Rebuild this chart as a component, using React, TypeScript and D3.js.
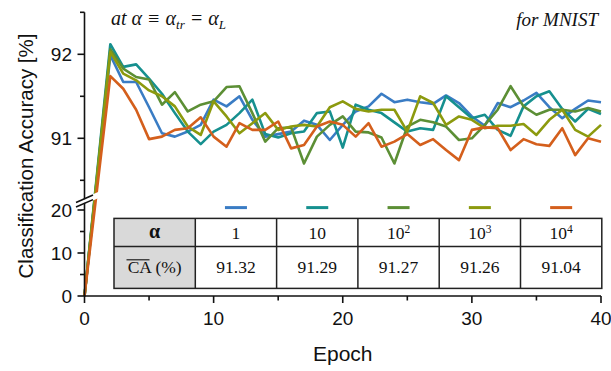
import React from "react"
import * as d3 from "d3"

const W = 611
const H = 371

// epochs with data (epoch 1 is not plotted, lines run straight from 0 to 2)
const epochs = [0, ...d3.range(2, 41)]

const alphaLabels = ["1", "10", "10|2", "10|3", "10|4"]
const meanCA = ["91.32", "91.29", "91.27", "91.26", "91.04"]
const colors = ["#3a7cc4", "#16908f", "#5c8f35", "#8c9a0e", "#d45f1c"]

// accuracy (%) for epochs 2..40, epoch 0 is 0
const acc1 = [91.99, 91.67, 91.67, 91.37, 91.06, 91.02, 91.08, 91.16, 91.46, 91.38, 91.5, 91.22, 91.02, 91.05, 91.08, 91.21, 91.16, 90.98, 91.16, 91.32, 91.38, 91.53, 91.43, 91.46, 91.43, 91.41, 91.51, 91.42, 91.26, 91.15, 91.42, 91.37, 91.45, 91.54, 91.37, 91.24, 91.35, 91.45, 91.43]
const acc10 = [92.12, 91.85, 91.88, 91.71, 91.53, 91.3, 91.08, 90.93, 91.08, 91.16, 91.3, 91.46, 91.05, 91.01, 91.06, 91.08, 91.3, 91.32, 90.89, 91.4, 91.34, 91.3, 91.19, 91.08, 91.12, 91.1, 91.5, 91.37, 91.24, 91.28, 91.1, 91.03, 91.38, 91.5, 91.56, 91.35, 91.2, 91.35, 91.29]
const acc100 = [92.06, 91.83, 91.73, 91.7, 91.4, 91.55, 91.32, 91.4, 91.44, 91.61, 91.62, 91.3, 90.96, 91.12, 91.13, 90.7, 91.02, 91.16, 91.26, 91.08, 91.07, 91.01, 90.7, 91.14, 91.22, 91.19, 91.14, 90.98, 91.0, 91.16, 91.34, 91.62, 91.38, 91.28, 91.34, 91.34, 91.32, 91.36, 91.32]
const acc1000 = [92.03, 91.77, 91.69, 91.57, 91.5, 91.38, 91.14, 91.04, 91.44, 91.26, 91.06, 91.18, 91.3, 91.1, 91.14, 91.16, 91.14, 91.37, 91.44, 91.35, 91.32, 91.34, 91.34, 91.08, 91.5, 91.42, 91.16, 91.26, 91.22, 91.12, 91.15, 91.15, 91.17, 91.04, 91.22, 91.34, 91.1, 91.02, 91.16]
const acc10000 = [91.74, 91.59, 91.34, 90.99, 91.02, 91.1, 91.12, 91.25, 91.02, 90.9, 91.18, 91.1, 91.1, 91.2, 90.88, 90.92, 91.14, 91.2, 91.16, 91.02, 91.18, 90.9, 90.96, 91.05, 90.92, 90.99, 90.86, 90.74, 91.1, 91.13, 91.12, 90.86, 90.99, 90.93, 90.91, 91.12, 90.8, 91.0, 90.96]

const series = [acc1, acc10, acc100, acc1000, acc10000]

const SANS = "'Liberation Sans', Arial, sans-serif"
const SERIF = "'Liberation Serif', 'Times New Roman', serif"

export default function App() {
  const x = d3.scaleLinear().domain([0, 40]).range([84.5, 601])
  const yHi = d3.scaleLinear().domain([91, 92]).range([138.3, 54.3])
  const yLo = d3.scaleLinear().domain([0, 20]).range([296, 210])
  const yPos = (v: number) => (v > 50 ? yHi(v) : yLo(v))

  const axisX = x(0)
  const line = d3
    .line<number>()
    .x((_, i) => x(epochs[i]))
    .y(d => yPos(d))

  // broken axis mark
  const bx0 = 74
  const bx1 = 101
  const by = (xx: number) => 202.5 - 0.44 * (xx - 76)
  const gap = 4.6

  const tableX = 114
  const colW = 81.3
  const rowY = [218.4, 246.6, 288.4]

  const xTicks = d3.range(0, 41, 5)
  const hiTicks = [90.5, 91, 91.5, 92, 92.5]
  const loTicks = [0, 5, 10, 15, 20]

  return (
    <svg
      width={W}
      height={H}
      style={{ position: "absolute", left: 0, top: 0, background: "#fff" }}
    >
      {/* data lines */}
      <g fill="none" strokeWidth={2.6} strokeLinejoin="round">
        {series.map((s, i) => (
          <path key={i} d={line([0, ...s]) || ""} stroke={colors[i]} />
        ))}
      </g>

      {/* axis break band */}
      <path
        d={`M${bx0},${by(bx0) - 0.8}L${bx1},${by(bx1) - 0.8}L${bx1},${by(bx1) + gap + 0.8}L${bx0},${by(bx0) + gap + 0.8}Z`}
        fill="#fff"
      />

      {/* y axis */}
      <g stroke="#111" strokeWidth={1.6}>
        <line x1={axisX} x2={axisX} y1={yHi(92.5)} y2={by(axisX) + 0.5} />
        <line x1={axisX} x2={axisX} y1={by(axisX) + gap - 0.5} y2={yLo(0)} />
        {hiTicks.map(t => (
          <line
            key={"h" + t}
            x1={axisX - (t % 1 === 0 ? 7 : 4.5)}
            x2={axisX}
            y1={yHi(t)}
            y2={yHi(t)}
          />
        ))}
        {loTicks.map(t => (
          <line
            key={"l" + t}
            x1={axisX - (t % 10 === 0 ? 7 : 4.5)}
            x2={axisX}
            y1={yLo(t)}
            y2={yLo(t)}
          />
        ))}
        <line x1={bx0 + 2} x2={bx0 + 19} y1={by(bx0 + 2)} y2={by(bx0 + 19)} />
        <line x1={bx0 + 2} x2={bx0 + 19} y1={by(bx0 + 2) + gap} y2={by(bx0 + 19) + gap} />
      </g>

      {/* x axis */}
      <g stroke="#111" strokeWidth={1.6}>
        <line x1={axisX} x2={x(40)} y1={yLo(0)} y2={yLo(0)} />
        {xTicks.map(t => (
          <line
            key={t}
            x1={x(t)}
            x2={x(t)}
            y1={yLo(0)}
            y2={yLo(0) + (t % 10 === 0 ? 7 : 4.5)}
          />
        ))}
      </g>

      {/* tick labels */}
      <g fontFamily={SANS} fontSize={19} fill="#111">
        {[91, 92].map(t => (
          <text key={t} x={72} y={yHi(t) + 6.8} textAnchor="end">
            {t}
          </text>
        ))}
        {[0, 10, 20].map(t => (
          <text key={t} x={72} y={yLo(t) + 6.8} textAnchor="end">
            {t}
          </text>
        ))}
        {[0, 10, 20, 30, 40].map(t => (
          <text key={t} x={x(t)} y={325} textAnchor="middle">
            {t}
          </text>
        ))}
      </g>

      <text
        x={x(20)}
        y={361}
        textAnchor="middle"
        fontFamily={SANS}
        fontSize={21}
        fill="#111"
      >
        Epoch
      </text>
      <text
        transform="translate(33,156) rotate(-90)"
        textAnchor="middle"
        fontFamily={SANS}
        fontSize={20.5}
        fill="#111"
      >
        Classification Accuracy [%]
      </text>

      {/* annotations */}
      <text x={111} y={25} fontFamily={SERIF} fontStyle="italic" fontSize={20} fill="#111">
        at α ≡ α
        <tspan fontSize={13} dy={4}>tr</tspan>
        <tspan dy={-4}> = α</tspan>
        <tspan fontSize={13} dy={4}>L</tspan>
      </text>
      <text
        x={598}
        y={26}
        textAnchor="end"
        fontFamily={SERIF}
        fontStyle="italic"
        fontSize={19}
        fill="#111"
      >
        for MNIST
      </text>

      {/* legend swatches */}
      <g strokeWidth={3}>
        {colors.map((c, i) => {
          const cx = tableX + colW * (i + 1.5)
          return <line key={c} x1={cx - 11} x2={cx + 11} y1={207.6} y2={207.6} stroke={c} />
        })}
      </g>

      {/* table */}
      <g>
        <rect x={tableX} y={rowY[0]} width={colW} height={rowY[2] - rowY[0]} fill="#d9d9d9" />
        <rect
          x={tableX + colW}
          y={rowY[0]}
          width={colW * 5}
          height={rowY[2] - rowY[0]}
          fill="#fff"
        />
        <g stroke="#222" strokeWidth={1.5} fill="none">
          <rect x={tableX} y={rowY[0]} width={colW * 6} height={rowY[2] - rowY[0]} />
          <line x1={tableX} x2={tableX + colW * 6} y1={rowY[1]} y2={rowY[1]} />
          {d3.range(1, 6).map(k => (
            <line
              key={k}
              x1={tableX + colW * k}
              x2={tableX + colW * k}
              y1={rowY[0]}
              y2={rowY[2]}
            />
          ))}
        </g>
        <g fontFamily={SERIF} fontSize={17.5} fill="#111" textAnchor="middle">
          <text x={tableX + colW / 2} y={238} fontWeight="bold" fontSize={20}>
            α
          </text>
          <text x={tableX + colW / 2} y={273}>
            CA (%)
          </text>
          <line
            x1={tableX + 12.5}
            x2={tableX + 35.5}
            y1={259.8}
            y2={259.8}
            stroke="#111"
            strokeWidth={1.1}
          />
          {alphaLabels.map((lab, i) => {
            const [base, sup] = lab.split("|")
            return (
              <text key={lab} x={tableX + colW * (i + 1.5)} y={238.5}>
                {base}
                {sup ? (
                  <tspan fontSize={11.5} dy={-5.5}>
                    {sup}
                  </tspan>
                ) : null}
              </text>
            )
          })}
          {meanCA.map((v, i) => (
            <text key={v} x={tableX + colW * (i + 1.5)} y={273}>
              {v}
            </text>
          ))}
        </g>
      </g>
    </svg>
  )
}
